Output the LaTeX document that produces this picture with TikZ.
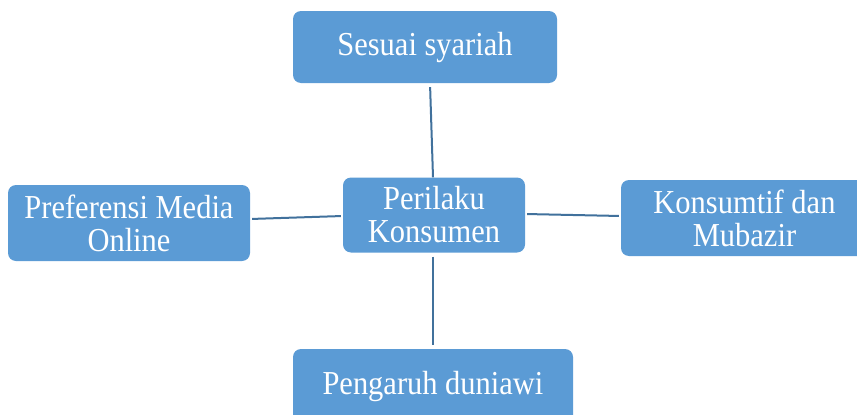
\documentclass[tikz,border=0pt]{standalone}
\usepackage{fontspec}
\setmainfont{Liberation Serif}
\newfontfamily\boxfont[FakeStretch=0.91]{Liberation Serif}
\definecolor{boxblue}{HTML}{5B9BD5}
\definecolor{lineblue}{HTML}{41719C}
\begin{document}
\begin{tikzpicture}[x=1pt,y=-1pt,
  topic/.style={fill=boxblue, rounded corners=8pt, text=white, align=center,
    inner sep=0pt, font=\boxfont\fontsize{33.5}{33}\selectfont},
  link/.style={draw=lineblue, line width=2pt}]
\useasboundingbox (0,0) rectangle (857,415);
\clip (0,0) rectangle (857,415);
\node[topic, minimum width=264pt, minimum height=72pt] (top) at (425,47) {Sesuai syariah};
\node[topic, minimum width=182pt, minimum height=75pt] (mid) at (434,215) {Perilaku\\Konsumen};
\node[topic, minimum width=242pt, minimum height=76pt] (left) at (129,223) {Preferensi Media\\Online};
\node[topic, minimum width=247pt, minimum height=76pt] (right) at (744.5,218) {Konsumtif dan\\Mubazir};
\node[topic, minimum width=280pt, minimum height=74pt] (bot) at (433,386) {Pengaruh duniawi};
\draw[link, shorten <=4pt] ([xshift=5pt]top.south) -- ([xshift=-1pt]mid.north);
\draw[link, shorten <=2pt, shorten >=2pt] ([yshift=4pt]left.east) -- ([yshift=-1pt]mid.west);
\draw[link, shorten <=2pt, shorten >=2pt] ([yshift=1pt]mid.east) -- ([yshift=2pt]right.west);
\draw[link, shorten <=4pt, shorten >=4pt] ([xshift=-1pt]mid.south) -- (bot.north);
\end{tikzpicture}
\end{document}
